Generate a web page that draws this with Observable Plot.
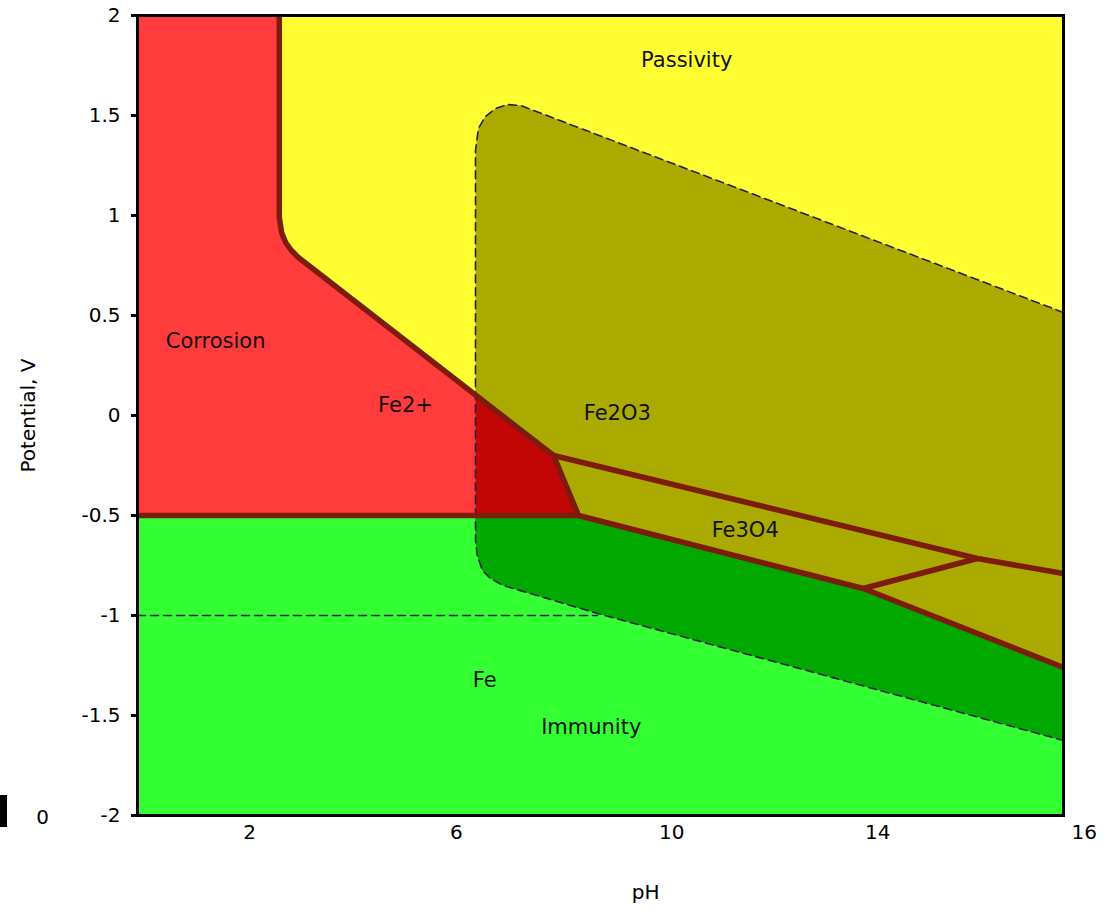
<!DOCTYPE html>
<html>
<head>
<meta charset="utf-8">
<script src="https://cdn.jsdelivr.net/npm/d3@7"></script>
<script src="https://cdn.jsdelivr.net/npm/@observablehq/plot@0.6"></script>
<style>
  body { margin: 0; background: #fff; }
  #wrap { position: relative; width: 1109px; height: 911px; }
  #wrap svg { display: block; }
  #bar { position: absolute; left: 0; top: 795px; width: 7px; height: 32px; background: #000; }
</style>
</head>
<body>
<div id="wrap"></div>
<script>
// ---- axis ticks ----
const yTicks = [-2, -1.5, -1, -0.5, 0, 0.5, 1, 1.5, 2];
const xTickLabels = ["2", "6", "10", "14", "16"];
const xTickPos = [1.935, 5.51, 9.23, 12.79, 16.36];

// ---- regions (pH, potential V) ----
const redX = [0, 2.45, 2.45, 2.49, 2.56, 2.66, 2.78, 7.19, 7.62, 0];
const redY = [2, 2, 0.99, 0.915, 0.865, 0.825, 0.79, -0.2, -0.5, -0.5];

const greenX = [0, 7.62, 12.54, 16, 16, 0];
const greenY = [-0.5, -0.5, -0.865, -1.26, -2, -2];

const oxideX = [16, 6.62, 6.39, 6.19, 6.01, 5.89, 5.84, 5.84, 5.87, 5.96, 6.10, 6.32, 7.95, 16];
const oxideY = [0.515, 1.55, 1.555, 1.535, 1.495, 1.435, 1.325, -0.625, -0.70, -0.775, -0.815, -0.85, -0.99, -1.625];

const darkRedX = [5.84, 7.19, 7.62, 5.84];
const darkRedY = [0.105, -0.2, -0.5, -0.5];

const darkGreenX = [5.84, 7.62, 12.54, 16, 16, 7.95, 6.32, 6.10, 5.96, 5.87, 5.84];
const darkGreenY = [-0.5, -0.5, -0.865, -1.26, -1.625, -0.99, -0.85, -0.815, -0.775, -0.70, -0.625];

// ---- boundary lines ----
const bound1X = [2.45, 2.45, 2.49, 2.56, 2.66, 2.78, 7.19, 7.62];
const bound1Y = [2, 0.99, 0.915, 0.865, 0.825, 0.79, -0.2, -0.5];
const bound2X = [0, 7.62, 12.54, 16];
const bound2Y = [-0.5, -0.5, -0.865, -1.26];
const bound3X = [7.19, 14.51, 16];
const bound3Y = [-0.2, -0.715, -0.79];
const bound4X = [12.54, 14.51];
const bound4Y = [-0.865, -0.715];

// water line (dashed)
const waterX = [0, 7.95];
const waterY = [-1, -1];

// ---- labels ----
const labelText = ["Passivity", "Corrosion", "Fe2+", "Fe2O3", "Fe3O4", "Fe", "Immunity"];
const labelX = [9.49, 1.35, 4.63, 8.29, 10.5, 6.0, 7.84];
const labelY = [1.775, 0.37, 0.05, 0.01, -0.575, -1.325, -1.56];

const pts = (xs, ys) => xs.map((x, i) => ({x, y: ys[i]}));
const tag = (xs, ys, id) => xs.map((x, i) => ({x, y: ys[i], id}));

const boundaries = [
  ...tag(bound1X, bound1Y, 1),
  ...tag(bound2X, bound2Y, 2),
  ...tag(bound3X, bound3Y, 3),
  ...tag(bound4X, bound4Y, 4)
];
const labels = labelText.map((t, i) => ({t, x: labelX[i], y: labelY[i]}));
const xticks = xTickLabels.map((t, i) => ({t, x: xTickPos[i]}));

const FONT = "DejaVu Sans, Verdana, sans-serif";
const dash = "#23233f";
const brown = "#7d1c0c";

const chart = Plot.plot({
  width: 1109,
  height: 911,
  marginLeft: 137,
  marginRight: 46,
  marginTop: 15,
  marginBottom: 96,
  style: {fontFamily: FONT, background: "#fff", color: "#000"},
  x: {domain: [0, 16], axis: null},
  y: {domain: [-2, 2]},
  marks: [
    Plot.frame({fill: "#ffff33", stroke: "none"}),
    Plot.line(pts(redX, redY), {x: "x", y: "y", fill: "#ff3b3b", stroke: "none"}),
    Plot.line(pts(greenX, greenY), {x: "x", y: "y", fill: "#33ff33", stroke: "none"}),
    Plot.line(pts(oxideX, oxideY), {x: "x", y: "y", fill: "#aaaa00", stroke: "none"}),
    Plot.line(pts(darkRedX, darkRedY), {x: "x", y: "y", fill: "#c20606", stroke: "none"}),
    Plot.line(pts(darkGreenX, darkGreenY), {x: "x", y: "y", fill: "#00a800", stroke: "none"}),
    Plot.line(pts(oxideX, oxideY), {x: "x", y: "y", stroke: dash, strokeWidth: 1.6, strokeDasharray: "8,5"}),
    Plot.line(pts(waterX, waterY), {x: "x", y: "y", stroke: dash, strokeWidth: 1.6, strokeDasharray: "8,5"}),
    Plot.line(boundaries, {x: "x", y: "y", z: "id", stroke: brown, strokeWidth: 5.5, strokeLinejoin: "round", strokeLinecap: "butt"}),
    Plot.text(labels, {x: "x", y: "y", text: "t", fontSize: 21, fill: "#111"}),
    Plot.frame({stroke: "#000", strokeWidth: 3}),
    Plot.axisY({ticks: yTicks, tickSize: 6, tickPadding: 11, fontSize: 20, strokeWidth: 3, tickFormat: d => String(d), label: null}),
    Plot.text(xticks, {x: "x", text: "t", frameAnchor: "bottom", dy: 23, fontSize: 20, fill: "#000"}),
    Plot.text(["Potential, V"], {frameAnchor: "left", textAnchor: "middle", dx: -109, rotate: -90, fontSize: 20, fill: "#000"}),
    Plot.text(["pH"], {x: () => 8.78, frameAnchor: "bottom", dy: 83, fontSize: 20, fill: "#000"}),
    Plot.text(["0"], {x: () => -1.64, y: () => -2, dy: 2, fontSize: 20, fill: "#000"})
  ]
});

const wrap = document.getElementById("wrap");
wrap.appendChild(chart);
const bar = document.createElement("div");
bar.id = "bar";
wrap.appendChild(bar);
</script>
</body>
</html>
